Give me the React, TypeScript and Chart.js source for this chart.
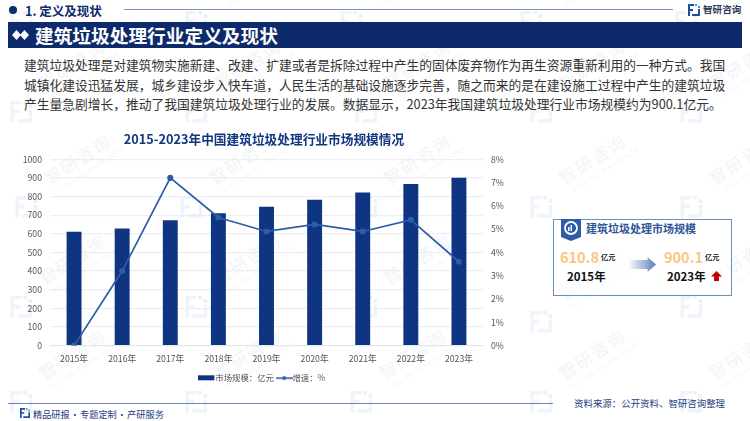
import React, { useEffect, useRef } from "react";
import { Chart, registerables } from "chart.js";

Chart.register(...registerables);

const categories = ["2015年", "2016年", "2017年", "2018年", "2019年", "2020年", "2021年", "2022年", "2023年"];
const marketSize = [610.8, 628, 673, 710, 745, 783, 821, 867, 900.1];
const growthRate = [0, 3.2, 7.2, 5.5, 4.9, 5.2, 4.9, 5.4, 3.6];
const chartTitle = "2015-2023年中国建筑垃圾处理行业市场规模情况";
const seriesNames = ["市场规模：亿元", "增速：%"];
const paragraphLines = [
  "建筑垃圾处理是对建筑物实施新建、改建、扩建或者是拆除过程中产生的固体废弃物作为再生资源重新利用的一种方式。我国",
  "城镇化建设迅猛发展，城乡建设步入快车道，人民生活的基础设施逐步完善，随之而来的是在建设施工过程中产生的建筑垃圾",
  "产生量急剧增长，推动了我国建筑垃圾处理行业的发展。数据显示，2023年我国建筑垃圾处理行业市场规模约为900.1亿元。",
];
const watermarkSpots = [
  [-100, 75], [70, 75], [245, 75], [415, 75], [590, 75], [740, 75],
  [70, -15], [245, -15], [400, -15], [580, -15], [735, -15],
  [-100, 170], [75, 170], [240, 170], [415, 170], [590, 170], [740, 170],
  [70, 270], [245, 270], [415, 270], [590, 285], [740, 270],
  [70, 365], [245, 365], [410, 365], [590, 365], [740, 365],
];

const FONT = '"Noto Sans CJK SC", "Noto Sans", sans-serif';
const NAVY = "#0d2a6b";
const BAR = "#0e3482";
const LINE = "#2f5ba8";

const swatch = (kind: "bar" | "line") => {
  const c = document.createElement("canvas");
  c.width = 17;
  c.height = 7;
  const g = c.getContext("2d")!;
  if (kind === "bar") {
    g.fillStyle = BAR;
    g.fillRect(0, 1, 16, 5);
  } else {
    g.fillStyle = LINE;
    g.fillRect(0, 3, 17, 1.6);
    g.beginPath();
    g.arc(8.5, 3.7, 2, 0, Math.PI * 2);
    g.fill();
  }
  return c;
};

const Abs: React.FC<{ s: React.CSSProperties; children?: React.ReactNode }> = ({ s, children }) => (
  <div style={{ position: "absolute", whiteSpace: "nowrap", ...s }}>{children}</div>
);

const Logo: React.FC<{ x: number; y: number; size: number; color?: string; accent?: string }> = ({ x, y, size, color = "#1d4f9c", accent = "#2f9ae0" }) => (
  <svg style={{ position: "absolute", left: x, top: y }} width={size} height={size} viewBox="0 0 12 12">
    <path d="M0 0H6V2H2V5H5V7H2V12H0Z" fill={color} />
    <path d="M7 0H9V2H7Z M10 2H12V4H10Z" fill={accent} />
    <path d="M12 5V12H4V10H10V5Z" fill={color} />
  </svg>
);

const Watermark: React.FC<{ cx: number; cy: number }> = ({ cx, cy }) => (
  <div
    style={{
      position: "absolute",
      left: cx - 60,
      top: cy - 25,
      width: 120,
      height: 50,
      transform: "rotate(-33deg)",
      color: "#f1f4f9",
      fontFamily: FONT,
      whiteSpace: "nowrap",
    }}
  >
    <div style={{ position: "absolute", left: 30, top: 6, fontSize: 17, letterSpacing: 2, lineHeight: "22px" }}>智研咨询</div>
    <div style={{ position: "absolute", left: 34, top: 29, fontSize: 5, lineHeight: "7px", color: "#f4f6fa" }}>INTELLIGENCE RESEARCH GROUP</div>
    <div style={{ position: "absolute", left: -4, top: 14, transform: "rotate(33deg)" }}>
      <Logo x={0} y={0} size={22} color="#eef4fa" accent="#e6f1fa" />
    </div>
  </div>
);

export default function App() {
  const ref = useRef<HTMLCanvasElement>(null);

  useEffect(() => {
    const chart = new Chart(ref.current!, {
      type: "bar",
      data: {
        labels: categories,
        datasets: [
          {
            type: "line",
            label: seriesNames[1],
            data: growthRate,
            yAxisID: "y1",
            borderColor: LINE,
            backgroundColor: LINE,
            borderWidth: 1.7,
            pointRadius: 2.2,
            pointBackgroundColor: LINE,
            pointBorderColor: LINE,
            tension: 0,
            order: 1,
          },
          {
            type: "bar",
            label: seriesNames[0],
            data: marketSize,
            yAxisID: "y",
            backgroundColor: BAR,
            categoryPercentage: 1,
            barPercentage: 0.31,
            order: 2,
          },
        ] as any,
      },
      options: {
        responsive: false,
        animation: false,
        layout: { padding: { top: 4, bottom: 11, left: 0, right: 0 } },
        plugins: {
          title: {
            display: true,
            text: chartTitle,
            color: "#12367f",
            font: { family: FONT, size: 12.7, weight: "bold" },
            padding: { top: 0, bottom: 12 },
          },
          legend: {
            position: "bottom",
            labels: {
              usePointStyle: true,
              color: "#555",
              font: { family: FONT, size: 8.4 },
              padding: 6,
              generateLabels: () => [
                { text: seriesNames[0], pointStyle: swatch("bar"), fontColor: "#555", datasetIndex: 1, lineWidth: 0, strokeStyle: "transparent", fillStyle: BAR },
                { text: seriesNames[1], pointStyle: swatch("line"), fontColor: "#555", datasetIndex: 0, lineWidth: 0, strokeStyle: "transparent", fillStyle: LINE },
              ] as any,
            },
          },
          tooltip: { enabled: false },
        },
        scales: {
          x: {
            afterFit: (s: any) => { s.height = 22; },
            grid: { display: false, drawTicks: false },
            border: { color: "#e3e5ea", width: 1 },
            ticks: { color: "#555", font: { family: FONT, size: 8.7 }, padding: 8, maxRotation: 0 },
          },
          y: {
            position: "left",
            min: 0,
            max: 1000,
            afterFit: (s: any) => { s.width = 41; },
            grid: { color: "#eceef2", lineWidth: 1.2, drawTicks: false },
            border: { display: false },
            ticks: { stepSize: 100, color: "#555", font: { family: FONT, size: 8.7 }, padding: 8, callback: (v: any) => `${v}` },
          },
          y1: {
            position: "right",
            min: 0,
            max: 8,
            afterFit: (s: any) => { s.width = 36; },
            grid: { display: false, drawTicks: false },
            border: { display: false },
            ticks: { stepSize: 1, color: "#555", font: { family: FONT, size: 8.7 }, padding: 8, callback: (v: any) => `${v}%` },
          },
        },
      } as any,
    });
    return () => chart.destroy();
  }, []);

  return (
    <div style={{ position: "fixed", left: 0, top: 0, width: 750, height: 421, overflow: "hidden", background: "#fff", fontFamily: FONT }}>
      {watermarkSpots.map(([x, y], i) => (
        <Watermark key={i} cx={x} cy={y} />
      ))}

      <div style={{ position: "absolute", left: 9, top: 6, width: 8, height: 8, borderRadius: 4, background: NAVY }} />
      <Abs s={{ left: 25, top: 2, fontSize: 12.5, fontWeight: 700, color: NAVY, lineHeight: "18px" }}>1. 定义及现状</Abs>
      <div style={{ position: "absolute", left: 124, top: 9, width: 549, height: 1, background: "#7f93bd" }} />
      <Logo x={688} y={4} size={12} />
      <Abs s={{ left: 703, top: 1, fontSize: 9.6, fontWeight: 700, color: "#2b3a55", lineHeight: "16px" }}>智研咨询</Abs>

      <div style={{ position: "absolute", left: 8, top: 22, width: 734, height: 26, background: NAVY }} />
      <svg style={{ position: "absolute", left: 12, top: 30 }} width="18" height="10" viewBox="0 0 18 10">
        <path d="M4.5 0L9 5L4.5 10L0 5Z M12.5 0L17 5L12.5 10L8 5Z" fill="#fff" />
      </svg>
      <Abs s={{ left: 35, top: 22, fontSize: 18.7, fontWeight: 700, color: "#fff", lineHeight: "26px" }}>建筑垃圾处理行业定义及现状</Abs>

      {paragraphLines.map((t, i) => (
        <Abs key={i} s={{ left: 24, top: 55 + i * 19.5, fontSize: 12.75, color: "#333", lineHeight: "19px" }}>{t}</Abs>
      ))}

      <canvas ref={ref} width={510} height={275} style={{ position: "absolute", left: 9, top: 128, width: 510, height: 275 }} />

      <div style={{ position: "absolute", left: 553, top: 219, width: 177, height: 75, border: "1px solid #6c8ebf", background: "rgba(255,255,255,0.6)" }} />
      <svg style={{ position: "absolute", left: 561, top: 219 }} width="20" height="22" viewBox="0 0 20 22">
        <path d="M0 0H20V18L10 22L0 18Z" fill="#2f5ba8" />
        <circle cx="10" cy="9" r="6" fill="none" stroke="#fff" strokeWidth="1.8" />
        <rect x="7" y="8" width="1.5" height="4" fill="#fff" />
        <rect x="9.5" y="6" width="1.5" height="6" fill="#fff" />
      </svg>
      <Abs s={{ left: 586, top: 219, fontSize: 11, fontWeight: 700, color: "#2f5597", lineHeight: "18px" }}>建筑垃圾处理市场规模</Abs>
      <Abs s={{ left: 560, top: 246, fontSize: 14.5, fontWeight: 700, color: "#f9c784", lineHeight: "22px" }}>610.8</Abs>
      <Abs s={{ left: 601, top: 252, fontSize: 7.2, fontWeight: 700, color: "#222", lineHeight: "11px" }}>亿元</Abs>
      <Abs s={{ left: 567, top: 267, fontSize: 11.5, fontWeight: 700, color: "#111", lineHeight: "18px" }}>2015年</Abs>
      <div style={{ position: "absolute", left: 628, top: 257, width: 28, height: 15, background: "linear-gradient(90deg,#ffffff,#5b7fb8)", clipPath: "polygon(0 20%,70% 20%,70% 0,100% 50%,70% 100%,70% 80%,0 80%)" }} />
      <Abs s={{ left: 664, top: 246, fontSize: 14.5, fontWeight: 700, color: "#f9c784", lineHeight: "22px" }}>900.1</Abs>
      <Abs s={{ left: 705, top: 252, fontSize: 7.2, fontWeight: 700, color: "#222", lineHeight: "11px" }}>亿元</Abs>
      <Abs s={{ left: 667, top: 267, fontSize: 11.5, fontWeight: 700, color: "#111", lineHeight: "18px" }}>2023年</Abs>
      <div style={{ position: "absolute", left: 711, top: 271, width: 11, height: 10, background: "#c00000", clipPath: "polygon(50% 0,100% 55%,72% 55%,72% 100%,28% 100%,28% 55%,0 55%)" }} />

      <div style={{ position: "absolute", left: 8, top: 403, width: 545, height: 1, background: "#6f83b3" }} />
      <Logo x={20} y={408} size={10} />
      <Abs s={{ left: 33, top: 406, fontSize: 9.2, color: "#24407f", lineHeight: "16px", wordSpacing: -1.5 }}>精品研报 · 专题定制 · 产研服务</Abs>
      <Abs s={{ left: 574, top: 395, fontSize: 9.45, color: "#24407f", lineHeight: "16px" }}>资料来源：公开资料、智研咨询整理</Abs>
    </div>
  );
}
